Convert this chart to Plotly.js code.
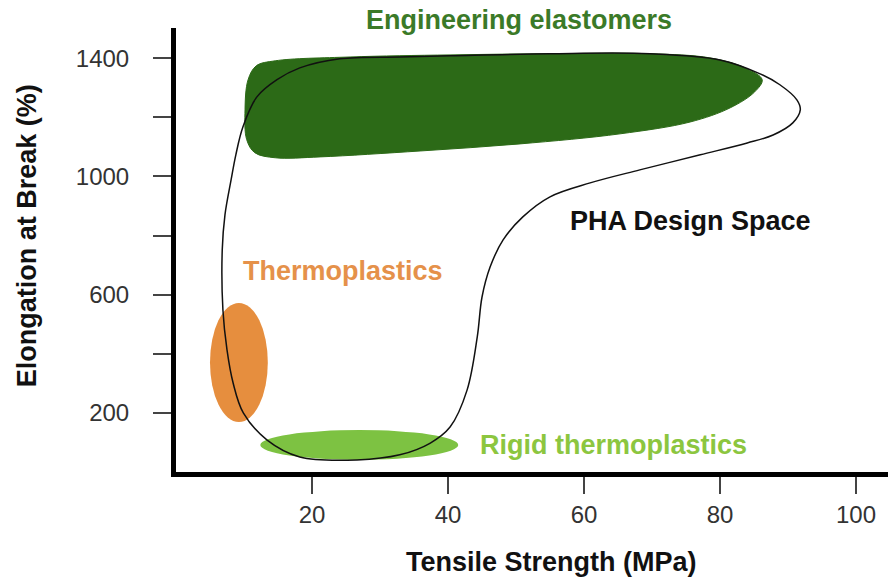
<!DOCTYPE html>
<html>
<head>
<meta charset="utf-8">
<script src="https://cdn.plot.ly/plotly-3.0.1.min.js"></script>
<style>html,body{margin:0;padding:0;background:#fff;}#chart{width:888px;height:578px;}</style>
</head>
<body>
<div id="chart"></div>
<script>
// Engineering elastomers region (Tensile Strength MPa, Elongation %)
const elastomerX = [55.0, 69.7, 78.5, 83.7, 86.2, 85.1, 81.5, 75.6, 65.3, 50.6, 35.9, 21.2, 14.6, 11.6, 10.4, 10.15, 10.6, 11.8, 14.6, 25.6, 40.3, 55.0];
const elastomerY = [1415, 1415, 1401, 1367, 1327, 1286, 1232, 1184, 1144, 1110, 1086, 1066, 1063, 1080, 1124, 1225, 1327, 1374, 1391, 1404, 1411, 1415];

// PHA design space outline
const phaX = [55.0, 69.7, 80.0, 85.9, 88.8, 91.3, 91.8, 90.7, 87.8, 84.0, 77.1, 68.2, 60.9, 55.0, 51.0, 48.1, 46.2, 45.0, 44.3, 42.8, 40.3, 37.4, 32.9, 26.6, 18.2, 13.4, 9.9, 8.4, 7.5, 6.9, 6.8, 7.2, 8.1, 8.8, 9.85, 11.9, 14.85, 18.2, 24.1, 32.9, 40.3, 55.0];
const phaY = [1415, 1415, 1394, 1347, 1310, 1259, 1225, 1181, 1140, 1113, 1073, 1022, 978, 931, 863, 785, 694, 592, 457, 277, 152, 98, 58, 41, 51, 108, 200, 301, 413, 548, 751, 870, 988, 1073, 1168, 1269, 1327, 1367, 1398, 1404, 1408, 1415];

// Thermoplastics ellipse bounds
const thermoX = [5.0, 13.5];
const thermoY = [169, 572];
// Rigid thermoplastics ellipse bounds
const rigidX = [12.4, 41.5];
const rigidY = [41, 142];

// Axis ticks
const xTickVals = [20, 40, 60, 80, 100];
const xTickText = ['20', '40', '60', '80', '100'];
const yTickVals = [200, 400, 600, 800, 1000, 1200, 1400];
const yTickText = ['200', '', '600', '', '1000', '', '1400'];

// Region labels (inside plot)
const labelText = ['Thermoplastics', 'PHA Design Space', 'Rigid thermoplastics'];
const labelX = [24.6, 75.6, 64.3];
const labelY = [680, 849, 91];
const labelColor = ['#e5914a', '#111111', '#8cc63f'];
// Label above the plot
const topLabelText = 'Engineering elastomers';
const topLabelX = 50.4;

const FONT = 'Liberation Sans, Arial, Helvetica, sans-serif';

const traces = [
  {
    x: elastomerX, y: elastomerY, type: 'scatter', mode: 'lines',
    fill: 'toself', fillcolor: '#2c6a17',
    line: {color: '#2c6a17', width: 1, shape: 'spline', smoothing: 1},
    hoverinfo: 'skip', showlegend: false
  },
  {
    x: phaX, y: phaY, type: 'scatter', mode: 'lines',
    line: {color: '#111111', width: 1.5, shape: 'spline', smoothing: 1},
    hoverinfo: 'skip', showlegend: false
  }
];

const annotations = labelText.map((t, i) => ({
  text: t, x: labelX[i], y: labelY[i], xref: 'x', yref: 'y',
  showarrow: false, xanchor: 'center', yanchor: 'middle',
  font: {family: FONT, size: 27, weight: 700, color: labelColor[i]}
}));
annotations.push({
  text: topLabelText, x: topLabelX, y: 1.018, xref: 'x', yref: 'paper',
  showarrow: false, xanchor: 'center', yanchor: 'middle',
  font: {family: FONT, size: 27, weight: 700, color: '#3b7a28'}
});
annotations.push({
  text: 'Tensile Strength (MPa)', xref: 'paper', yref: 'paper',
  x: 0.527, y: -0.203, showarrow: false, xanchor: 'center', yanchor: 'middle',
  font: {family: FONT, size: 27, weight: 700, color: '#111111'}
});
annotations.push({
  text: 'Elongation at Break (%)', xref: 'paper', yref: 'paper',
  x: -0.209, y: 0.5315, textangle: -90, showarrow: false, xanchor: 'center', yanchor: 'middle',
  font: {family: FONT, size: 27, weight: 700, color: '#111111'}
});

const layout = {
  width: 888, height: 578,
  margin: {l: 176, r: 0, t: 28, b: 106, pad: 0},
  paper_bgcolor: '#ffffff', plot_bgcolor: '#ffffff',
  showlegend: false,
  xaxis: {
    range: [0, 104.7], showgrid: false, zeroline: false,
    showline: true, linecolor: '#000000', linewidth: 5,
    ticks: 'outside', ticklen: 17, tickwidth: 2, tickcolor: '#444444',
    tickmode: 'array', tickvals: xTickVals, ticktext: xTickText,
    tickfont: {family: FONT, size: 24, color: '#333333'}
  },
  yaxis: {
    range: [0, 1502], showgrid: false, zeroline: false,
    showline: true, linecolor: '#000000', linewidth: 5,
    ticks: 'outside', ticklen: 18, tickwidth: 2, tickcolor: '#444444',
    ticklabelstandoff: 19,
    tickmode: 'array', tickvals: yTickVals, ticktext: yTickText,
    tickfont: {family: FONT, size: 24, color: '#333333'}
  },
  shapes: [
    {type: 'circle', xref: 'x', yref: 'y', x0: thermoX[0], x1: thermoX[1], y0: thermoY[0], y1: thermoY[1],
     fillcolor: '#e68e3e', line: {width: 0}, layer: 'below'},
    {type: 'circle', xref: 'x', yref: 'y', x0: rigidX[0], x1: rigidX[1], y0: rigidY[0], y1: rigidY[1],
     fillcolor: '#7dc242', line: {width: 0}, layer: 'below'}
  ],
  annotations: annotations
};

Plotly.newPlot('chart', traces, layout, {staticPlot: true, displayModeBar: false});
</script>
</body>
</html>
